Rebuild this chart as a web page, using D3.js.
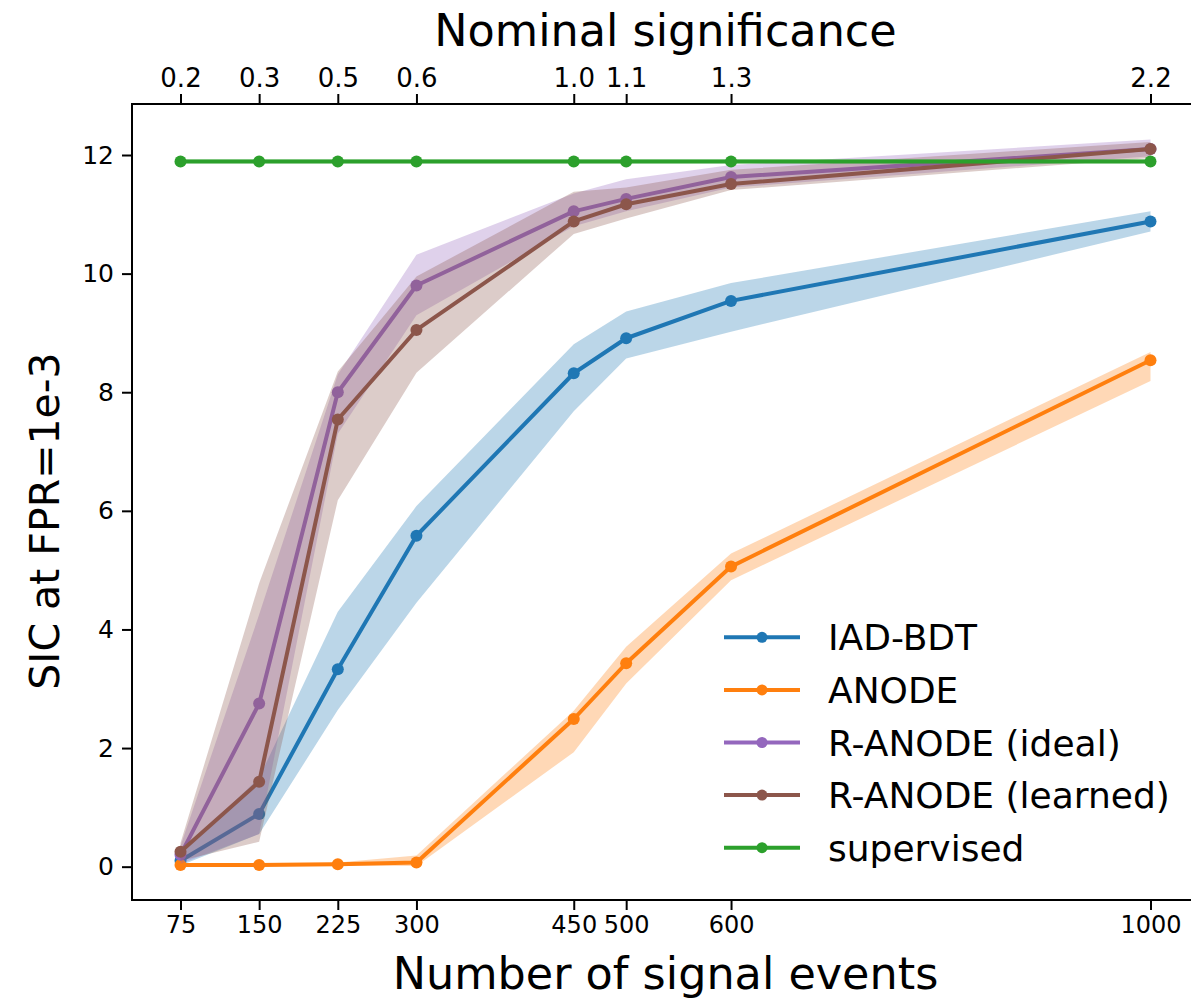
<!DOCTYPE html>
<html>
<head>
<meta charset="utf-8">
<script src="https://cdn.jsdelivr.net/npm/d3@7"></script>
<style>
  html, body { margin: 0; padding: 0; background: #fff; }
  svg { display: block; font-family: "DejaVu Sans", sans-serif; }
</style>
</head>
<body>
<svg id="chart" width="1191" height="1000"></svg>
<script>
// Signal injection counts and the matching nominal significance
const nSignal = [75, 150, 225, 300, 450, 500, 600, 1000];
const sigLabels = ["0.2", "0.3", "0.5", "0.6", "1.0", "1.1", "1.3", "2.2"];
const yTicks = [0, 2, 4, 6, 8, 10, 12];

// SIC at FPR = 1e-3: mean and band edges per method
const iadMean = [0.10, 0.89, 3.33, 5.58, 8.32, 8.91, 9.54, 10.88];
const iadLo   = [0.02, 0.55, 2.64, 4.45, 7.68, 8.57, 9.02, 10.71];
const iadHi   = [0.22, 1.50, 4.30, 6.08, 8.81, 9.36, 9.84, 11.05];

const anodeMean = [0.03, 0.03, 0.04, 0.07, 2.49, 3.43, 5.06, 8.54];
const anodeLo   = [0.01, 0.01, 0.02, 0.01, 1.93, 3.09, 4.83, 8.19];
const anodeHi   = [0.06, 0.06, 0.07, 0.19, 2.63, 3.71, 5.28, 8.68];

const idealMean = [0.20, 2.75, 8.00, 9.80, 11.05, 11.26, 11.63, 12.10];
const idealLo   = [0.05, 0.55, 7.30, 9.30, 10.80, 11.05, 11.45, 11.98];
const idealHi   = [0.35, 4.25, 8.30, 10.32, 11.35, 11.59, 11.83, 12.26];

const learnedMean = [0.25, 1.43, 7.54, 9.05, 10.88, 11.17, 11.51, 12.10];
const learnedLo   = [0.10, 0.42, 6.18, 8.33, 10.67, 10.93, 11.41, 11.95];
const learnedHi   = [0.40, 4.78, 8.35, 9.95, 11.38, 11.45, 11.75, 12.22];

const supMean = [11.89, 11.89, 11.89, 11.89, 11.89, 11.89, 11.89, 11.89];
const supLo   = [11.86, 11.86, 11.86, 11.86, 11.86, 11.86, 11.86, 11.86];
const supHi   = [11.93, 11.93, 11.93, 11.93, 11.93, 11.93, 11.93, 11.93];

const seriesNames = ["IAD-BDT", "ANODE", "R-ANODE (ideal)", "R-ANODE (learned)", "supervised"];
const seriesColors = ["#1f77b4", "#ff7f0e", "#9467bd", "#8c564b", "#2ca02c"];
const seriesMean = [iadMean, anodeMean, idealMean, learnedMean, supMean];
const seriesLo = [iadLo, anodeLo, idealLo, learnedLo, supLo];
const seriesHi = [iadHi, anodeHi, idealHi, learnedHi, supHi];

const svg = d3.select("#chart");
const plotLeft = 132, plotRight = 1199, plotTop = 104, plotBottom = 900;

const x = d3.scaleLinear().domain([28.75, 1046.25]).range([plotLeft, plotRight]);
const y = d3.scaleLinear().domain([-0.562, 12.86]).range([plotBottom, plotTop]);

const plot = svg.append("g");

const area = d3.area()
  .x(d => x(d.n)).y0(d => y(d.lo)).y1(d => y(d.hi));
const line = d3.line()
  .x(d => x(d.n)).y(d => y(d.v));

seriesNames.forEach((name, i) => {
  const pts = nSignal.map((n, j) => ({
    n, v: seriesMean[i][j], lo: seriesLo[i][j], hi: seriesHi[i][j]
  }));
  const g = plot.append("g");
  g.append("path").datum(pts)
    .attr("d", area)
    .attr("fill", seriesColors[i])
    .attr("fill-opacity", 0.3);
  g.append("path").datum(pts)
    .attr("d", line)
    .attr("fill", "none")
    .attr("stroke", seriesColors[i])
    .attr("stroke-width", 4)
    .attr("stroke-linejoin", "round");
  g.selectAll("circle").data(pts).join("circle")
    .attr("cx", d => x(d.n)).attr("cy", d => y(d.v))
    .attr("r", 6).attr("fill", seriesColors[i]);
});

// Axes
const xBottom = d3.axisBottom(x).tickValues(nSignal).tickFormat(d3.format("d"))
  .tickSize(10).tickPadding(6);
const xTop = d3.axisTop(x).tickValues(nSignal)
  .tickFormat((d, i) => sigLabels[i]).tickSize(10).tickPadding(7);
const yLeft = d3.axisLeft(y).tickValues(yTicks).tickFormat(d3.format("d"))
  .tickSize(10).tickPadding(8);

function styleAxis(g, size) {
  g.select(".domain").remove();
  g.selectAll(".tick line").attr("stroke", "#000").attr("stroke-width", 2);
  g.selectAll(".tick text").attr("fill", "#000")
    .style("font-family", "DejaVu Sans").style("font-size", size + "px");
}

svg.append("g").attr("transform", `translate(0,${plotBottom})`).call(xBottom)
  .call(g => styleAxis(g, 24));
svg.append("g").attr("transform", `translate(0,${plotTop})`).call(xTop)
  .call(g => styleAxis(g, 26));
svg.append("g").attr("transform", `translate(${plotLeft},0)`).call(yLeft)
  .call(g => styleAxis(g, 25));

// Frame
svg.append("rect")
  .attr("x", plotLeft).attr("y", plotTop)
  .attr("width", plotRight - plotLeft).attr("height", plotBottom - plotTop)
  .attr("fill", "none").attr("stroke", "#000").attr("stroke-width", 2);

// Axis titles
svg.append("text")
  .attr("x", (plotLeft + plotRight) / 2).attr("y", 989)
  .attr("text-anchor", "middle")
  .style("font-size", "44.5px")
  .text("Number of signal events");

svg.append("text")
  .attr("x", (plotLeft + plotRight) / 2).attr("y", 46)
  .attr("text-anchor", "middle")
  .style("font-size", "44.5px")
  .text("Nominal significance");

svg.append("text")
  .attr("transform", `translate(59,521) rotate(-90)`)
  .attr("text-anchor", "middle")
  .style("font-size", "41px")
  .text("SIC at FPR=1e-3");

// Legend
const legend = svg.append("g");
seriesNames.forEach((name, i) => {
  const ly = 637.3 + i * 52.6;
  legend.append("line")
    .attr("x1", 724).attr("x2", 800).attr("y1", ly).attr("y2", ly)
    .attr("stroke", seriesColors[i]).attr("stroke-width", 4);
  legend.append("circle")
    .attr("cx", 762).attr("cy", ly).attr("r", 5.5).attr("fill", seriesColors[i]);
  legend.append("text")
    .attr("x", 828).attr("y", ly + 13)
    .style("font-size", "36px")
    .text(name);
});
</script>
</body>
</html>
